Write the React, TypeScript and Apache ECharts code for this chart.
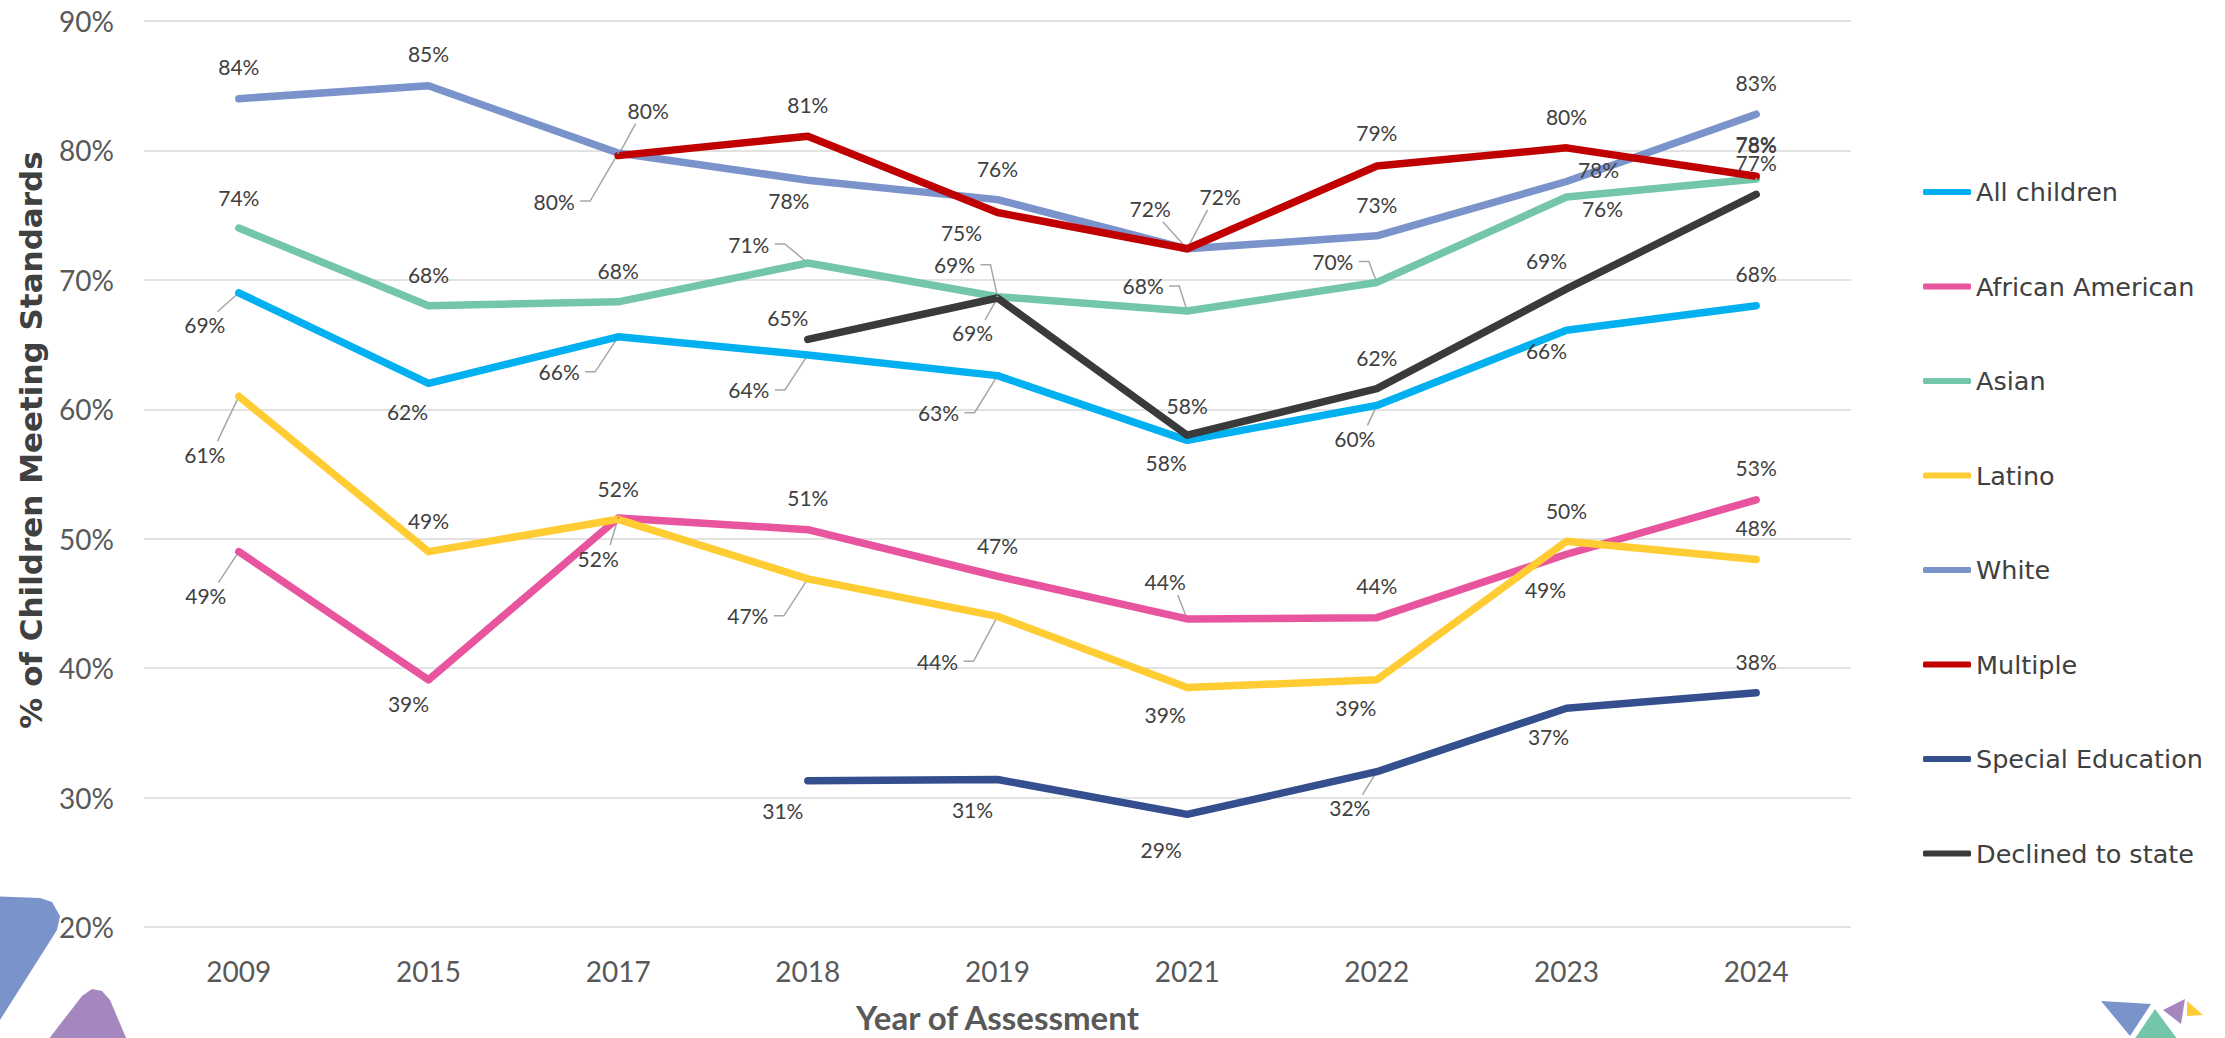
import React, { useEffect, useRef } from "react";
import * as echarts from "echarts";

const YEARS = ["2009", "2015", "2017", "2018", "2019", "2021", "2022", "2023", "2024"];

const SERIES_NAMES = [
  "All children",
  "African American",
  "Asian",
  "Latino",
  "White",
  "Multiple",
  "Special Education",
  "Declined to state",
];

const SERIES_COLORS = ["#00B0F0", "#E8559E", "#73C6A9", "#FFCC33", "#7B93CB", "#C00000", "#354F8E", "#3A3A3A"];

const ALL_CHILDREN = [69.0, 62.0, 65.6, 64.2, 62.6, 57.6, 60.3, 66.1, 68.0];
const AFRICAN_AMERICAN = [49.0, 39.1, 51.6, 50.7, 47.1, 43.8, 43.9, 48.8, 53.0];
const ASIAN = [74.0, 68.0, 68.3, 71.3, 68.7, 67.6, 69.8, 76.4, 77.8];
const LATINO = [61.0, 49.0, 51.5, 46.9, 44.0, 38.5, 39.1, 49.8, 48.4];
const WHITE = [84.0, 85.0, 79.8, 77.7, 76.2, 72.4, 73.4, 77.6, 82.8];
const MULTIPLE = [null, null, 79.6, 81.1, 75.2, 72.4, 78.8, 80.2, 78.0];
const SPECIAL_EDUCATION = [null, null, null, 31.3, 31.4, 28.7, 32.0, 36.9, 38.1];
const DECLINED = [null, null, null, 65.4, 68.6, 58.0, 61.6, 69.3, 76.6];

const SERIES_VALUES: (number | null)[][] = [
  ALL_CHILDREN,
  AFRICAN_AMERICAN,
  ASIAN,
  LATINO,
  WHITE,
  MULTIPLE,
  SPECIAL_EDUCATION,
  DECLINED,
];

// label centre offsets (px) from each point — layout only
const LABEL_OFFSETS: ([number, number] | null)[][] = [
  [[-34, 32], [-21, 28], [-59, 35], [-59, 35], [-59, 37], [-21, 22], [-22, 33], [-20, 20], [0, -32]],
  [[-33, 44], [-20, 24], [-20, 40], [0, -32], [0, -31], [-22, -37], [0, -32], [-21, 35], [0, -32]],
  [[0, -31], [0, -31], [0, -31], [-59, -19], [-43, -32], [-44, -25], [-44, -21], [36, 11], [0, -34]],
  [[-34, 58], [0, -31], [0, -31], [-60, 37], [-60, 45], [-22, 27], [-21, 28], [0, -31], [0, -32]],
  [[0, -32], [0, -32], [-64, 48], [-19, 20], [0, -31], [-37, -40], [0, -31], [32, -12], [0, -32]],
  [null, null, [30, -45], [0, -32], [-36, 20], [33, -52], [0, -33], [0, -31], [0, -33]],
  [null, null, null, [-25, 30], [-25, 30], [-26, 35], [-27, 36], [-18, 28], [0, -31]],
  [null, null, null, [-20, -22], [-25, 35], [0, -30], [0, -31], [-20, -28], [0, -32]],
];

// leader lines: [seriesIndex, categoryIndex, kind] (kind 0 = side stub, 1 = from top/bottom)
const LEADERS: [number, number, number][] = [
  [5, 2, 1], [4, 2, 0], [0, 0, 1], [3, 0, 1], [0, 2, 0], [2, 3, 0], [0, 3, 0], [2, 4, 0],
  [7, 4, 1], [0, 4, 0], [4, 5, 1], [5, 5, 1], [2, 5, 0], [2, 6, 0], [0, 6, 1], [1, 0, 1],
  [1, 2, 1], [3, 3, 0], [3, 4, 0], [1, 5, 1], [6, 6, 1],
];

export default function App() {
  const ref = useRef<HTMLDivElement>(null);

  useEffect(() => {
    if (!ref.current) return;
    const chart = echarts.init(ref.current, null, { renderer: "svg", width: 2225, height: 1038 });

    const lineSeries = SERIES_NAMES.map((name, si) => ({
      name,
      type: "line",
      data: SERIES_VALUES[si].map((v, i) =>
        v == null
          ? "-"
          : {
              value: v,
              label: { offset: LABEL_OFFSETS[si][i] || [0, -32] },
            }
      ),
      symbol: "circle",
      symbolSize: 2,
      showSymbol: true,
      showAllSymbol: true,
      itemStyle: { color: SERIES_COLORS[si] },
      lineStyle: { color: SERIES_COLORS[si], width: 7.5, cap: "round", join: "round" },
      label: {
        show: true,
        position: "inside",
        formatter: (p: any) => Math.round(p.value) + "%",
        fontFamily: "Lato",
        fontSize: 21,
        color: "#404040",
      },
      emphasis: { disabled: true },
      z: 3,
    }));

    const leaderSeries = {
      name: "leaders",
      type: "custom",
      silent: true,
      z: 1,
      data: LEADERS.map(([si, ci, kind]) => {
        const off = LABEL_OFFSETS[si][ci] as [number, number];
        return [ci, SERIES_VALUES[si][ci], off[0], off[1], kind];
      }),
      encode: { x: 0, y: 1 },
      renderItem: (_params: any, api: any) => {
        const p = api.coord([api.value(0), api.value(1)]);
        const dx = api.value(2);
        const dy = api.value(3);
        const kind = api.value(4);
        const cx = p[0] + dx;
        const cy = p[1] + dy;
        const hw = 21;
        const hh = 10;
        let pts: number[][];
        if (kind === 0) {
          const sx = cx + hw + 5;
          pts = [[sx, cy], [sx + 10, cy], [p[0], p[1]]];
        } else {
          const sx = cx + Math.max(-hw, Math.min(hw, -dx)) * 0.6;
          const sy = dy > 0 ? cy - hh - 3 : cy + hh + 3;
          pts = [[sx, sy], [p[0], p[1]]];
        }
        return {
          type: "polyline",
          shape: { points: pts },
          style: { stroke: "#A6A6A6", lineWidth: 1.5, fill: null },
        };
      },
    };

    chart.setOption({
      animation: false,
      backgroundColor: "#FFFFFF",
      grid: { left: 144, right: 374, top: 21, bottom: 109, containLabel: false },
      legend: {
        orient: "vertical",
        left: 1918,
        top: 172,
        itemWidth: 48,
        itemHeight: 6,
        itemGap: 64.5,
        icon: "roundRect",
        data: SERIES_NAMES,
        selectedMode: false,
        textStyle: {
          fontFamily: "DejaVu Sans",
          fontSize: 25.5,
          color: "#404040",
          lineHeight: 30,
        },
      },
      xAxis: {
        type: "category",
        data: YEARS,
        boundaryGap: true,
        axisLine: { show: false },
        axisTick: { show: false },
        axisLabel: { fontFamily: "Lato", fontSize: 28, color: "#595959", margin: 30 },
        name: "Year of Assessment",
        nameLocation: "middle",
        nameGap: 73,
        nameTextStyle: { fontFamily: "Lato", fontWeight: "bold", fontSize: 33, color: "#595959" },
      },
      yAxis: {
        type: "value",
        min: 20,
        max: 90,
        interval: 10,
        axisLine: { show: false },
        axisTick: { show: false },
        axisLabel: { formatter: "{value}%", fontFamily: "Lato", fontSize: 28, color: "#595959", margin: 30 },
        splitLine: { lineStyle: { color: "#D9D9D9", width: 1.5 } },
      },
      graphic: [
        {
          type: "text",
          x: 31,
          y: 440,
          rotation: Math.PI / 2,
          style: {
            text: "% of Children Meeting Standards",
            font: 'bold 31px "DejaVu Sans"',
            fill: "#404040",
            align: "center",
            verticalAlign: "middle",
            textAlign: "center",
            textVerticalAlign: "middle",
          },
        },
        {
          type: "polygon",
          shape: { points: [[-10, 896], [40, 898], [52, 902], [60, 916], [57, 930], [0, 1020], [-10, 1020]] },
          style: { fill: "#7B93CB" },
        },
        {
          type: "polygon",
          shape: { points: [[48, 1040], [82, 996], [92, 989], [102, 991], [110, 1000], [127, 1040]] },
          style: { fill: "#A587BF" },
        },
        { type: "polygon", shape: { points: [[2101, 1001], [2151, 1004], [2130, 1036]] }, style: { fill: "#7B93CB" } },
        { type: "polygon", shape: { points: [[2155, 1009], [2134, 1040], [2178, 1040]] }, style: { fill: "#73C6A9" } },
        { type: "polygon", shape: { points: [[2163, 1010], [2185, 999], [2181, 1024]] }, style: { fill: "#A587BF" } },
        { type: "polygon", shape: { points: [[2187, 1001], [2203, 1015], [2187, 1016]] }, style: { fill: "#FFCC33" } },
      ],
      series: [leaderSeries, ...lineSeries],
    });

    return () => chart.dispose();
  }, []);

  return (
    <div
      ref={ref}
      style={{ position: "fixed", left: 0, top: 0, width: 2225, height: 1038, background: "#fff" }}
    />
  );
}
